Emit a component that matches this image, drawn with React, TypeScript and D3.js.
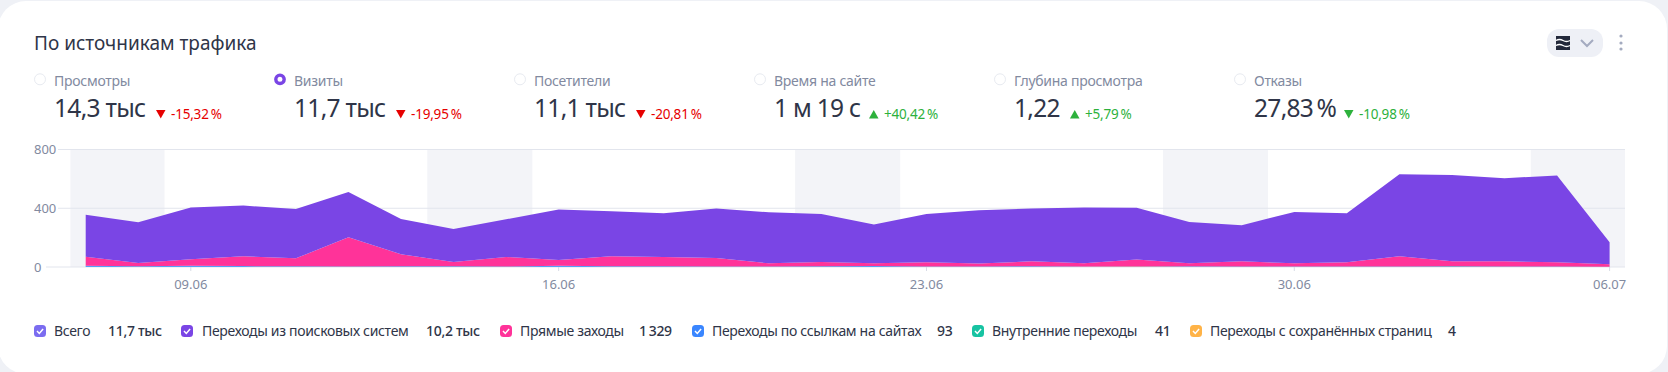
import React from "react";
import * as d3 from "d3";

const dates = ["07.06","08.06","09.06","10.06","11.06","12.06","13.06","14.06","15.06","16.06","17.06","18.06","19.06","20.06","21.06","22.06","23.06","24.06","25.06","26.06","27.06","28.06","29.06","30.06","01.07","02.07","03.07","04.07","05.07","06.07"];
const search = [285,278,353,345,336,309,241,225,257,343,307,298,337,348,327,264,329,363,359,380,353,282,245,350,334,559,588,566,591,150];
const direct = [61,22,43,67,54,199,81,29,65,39,68,63,58,22,29,18,29,20,34,21,47,20,36,22,28,69,34,36,29,16];
const links = [8,4,7,5,3,2,4,3,2,7,4,3,2,2,3,6,2,2,3,2,1,3,2,2,3,2,2,1,2,1];
const internal = [1,1,2,1,2,1,1,2,1,2,1,2,1,1,2,1,1,1,2,1,1,1,1,1,1,2,3,2,1,1];
const saved = [0,0,0,0,0,0,0,0,0,0,0,0,0,0,0,0,0,0,0,1,2,1,0,0,0,0,0,0,0,0];

const tickLabels = ["09.06","16.06","23.06","30.06","06.07"];
const yTicks = [0,400,800];
const weekends = [[0,1],[7,8],[14,15],[21,22],[28,29]];

const metricNames = ["Просмотры","Визиты","Посетители","Время на сайте","Глубина просмотра","Отказы"];
const metricValues = ["14,3 тыс","11,7 тыс","11,1 тыс","1 м 19 с","1,22","27,83\u2009%"];
const metricDeltas = ["-15,32\u2009%","-19,95\u2009%","-20,81\u2009%","+40,42\u2009%","+5,79\u2009%","-10,98\u2009%"];
const metricDown = [true,true,true,false,false,true];
const metricBad = [true,true,true,false,false,false];
const metricDeltaX = [102,102,102,95,56,90];

const legendNames = ["Всего","Переходы из поисковых систем","Прямые заходы","Переходы по ссылкам на сайтах","Внутренние переходы","Переходы с сохранённых страниц"];
const legendValues = ["11,7 тыс","10,2 тыс","1\u2009329","93","41","4"];
const legendColors = ["#7b6cf0","#7a45e5","#ff3399","#3a86ff","#17c3a2","#ffb347"];
const legendBoxX = [34,181,500,692,972,1190];
const legendLabelX = [54,202,520,712,992,1210];
const legendValueX = [108,426,639,937,1155,1448];

const FONT = '"Noto Sans", sans-serif';
const INK = "#2f3548";
const GREY = "#828a9f";

export default function App() {
  const x = d3.scaleLinear().domain([0, dates.length - 1]).range([85.7, 1609.6]);
  const y = d3.scaleLinear().domain([0, 800]).range([267, 149.5]);
  const step = x(1) - x(0);
  const rows = dates.map((_, i) => ({ i, saved: saved[i], internal: internal[i], links: links[i], direct: direct[i], search: search[i] }));
  const stackKeys = ["saved","internal","links","direct","search"];
  const stackColors: Record<string,string> = { saved:"#ffb347", internal:"#17c3a2", links:"#3a86ff", direct:"#ff3399", search:"#7a45e5" };
  const layers = d3.stack<any>().keys(stackKeys)(rows);
  const area = d3.area<any>().x((d) => x(d.data.i)).y0((d) => y(d[0])).y1((d) => y(d[1]));
  const plotRight = 1625;

  return (
    <div style={{ position:"fixed", left:0, top:0, width:1668, height:372, background:"#eff1f6" }}>
      <svg width={1668} height={372} style={{ display:"block", fontFamily:FONT }}>
        <rect x={-2} y={1} width={1669} height={373} rx={28} fill="#ffffff" />
        <text x={34} y={49.5} fontSize={19} fill={INK}>По источникам трафика</text>

        <rect x={1547} y={29} width={56} height={28} rx={12} fill="#eef0f6" />
        <rect x={1556} y={36} width={14} height={14} fill="#22283a" />
        <path d="M1556 40.5q3.5 -2 7 0t7 0M1556 45.5q3.5 -2 7 0t7 0" fill="none" stroke="#fff" strokeWidth={1.4} />
        <path d="M1581 40l6 6l6 -6" fill="none" stroke="#a4abc0" strokeWidth={2} />
        {[36,43,49].map((cy) => <circle key={cy} cx={1621} cy={cy} r={1.6} fill="#a4abc0" />)}

        {metricNames.map((name, i) => {
          const cx = 54 + i * 240;
          const tx = cx + metricDeltaX[i];
          const c = metricBad[i] ? "#e60000" : "#2db13c";
          return (
            <g key={name}>
              {i === 1 ? (
                <circle cx={cx - 14} cy={79.3} r={4.2} fill="#fff" stroke="#7a45e5" strokeWidth={3.4} />
              ) : (
                <circle cx={cx - 14} cy={79.3} r={5.5} fill="#fff" stroke="#e8ebf1" strokeWidth={1} />
              )}
              <text x={cx} y={86} fontSize={14} fill={GREY} letterSpacing={-0.27}>{name}</text>
              <text x={cx} y={117.3} fontSize={24.5} fill={INK} letterSpacing={-0.7}>{metricValues[i]}</text>
              <path d={metricDown[i] ? `M${tx} 110h9.5l-4.75 8.5z` : `M${tx} 118.5h9.5l-4.75 -8.5z`} fill={c} />
              <text x={tx + 15} y={118.5} fontSize={13.5} fill={c} letterSpacing={-0.2}>{metricDeltas[i]}</text>
            </g>
          );
        })}

        {weekends.map(([a, b]) => {
          const left = Math.max(x(a) - step / 2, 70.4);
          const right = Math.min(x(b) + step / 2, plotRight);
          return <rect key={a} x={left} y={y(800)} width={right - left} height={y(0) - y(800)} fill="#f3f4f8" />;
        })}
        {yTicks.map((t) => (
          <g key={t}>
            <line x1={t === 0 ? 46 : 58} x2={plotRight} y1={y(t)} y2={y(t)} stroke="#e2e5ed" />
            <text x={34} y={y(t) + 4.5} fontSize={13} fill={GREY}>{t}</text>
          </g>
        ))}
        {layers.map((l) => <path key={l.key} d={area(l) ?? ""} fill={stackColors[l.key]} />)}
        {tickLabels.map((t) => {
          const tx = x(dates.indexOf(t));
          return (
            <g key={t}>
              <line x1={tx} x2={tx} y1={267} y2={271} stroke="#d8dce6" />
              <text x={tx} y={288.5} fontSize={13} fill={GREY} textAnchor="middle">{t}</text>
            </g>
          );
        })}

        {legendNames.map((name, i) => (
          <g key={name}>
            <rect x={legendBoxX[i]} y={325} width={12} height={12} rx={3.5} fill={legendColors[i]} />
            <path d={`M${legendBoxX[i] + 3} 331l2.3 2.4l3.8 -4.4`} fill="none" stroke="#fff" strokeWidth={1.5} />
            <text x={legendLabelX[i]} y={336} fontSize={14} fill={INK} letterSpacing={-0.32}>{name}</text>
            <text x={legendValueX[i]} y={336} fontSize={14} fontWeight={500} fill={INK} letterSpacing={-0.32}>{legendValues[i]}</text>
          </g>
        ))}
      </svg>
    </div>
  );
}
